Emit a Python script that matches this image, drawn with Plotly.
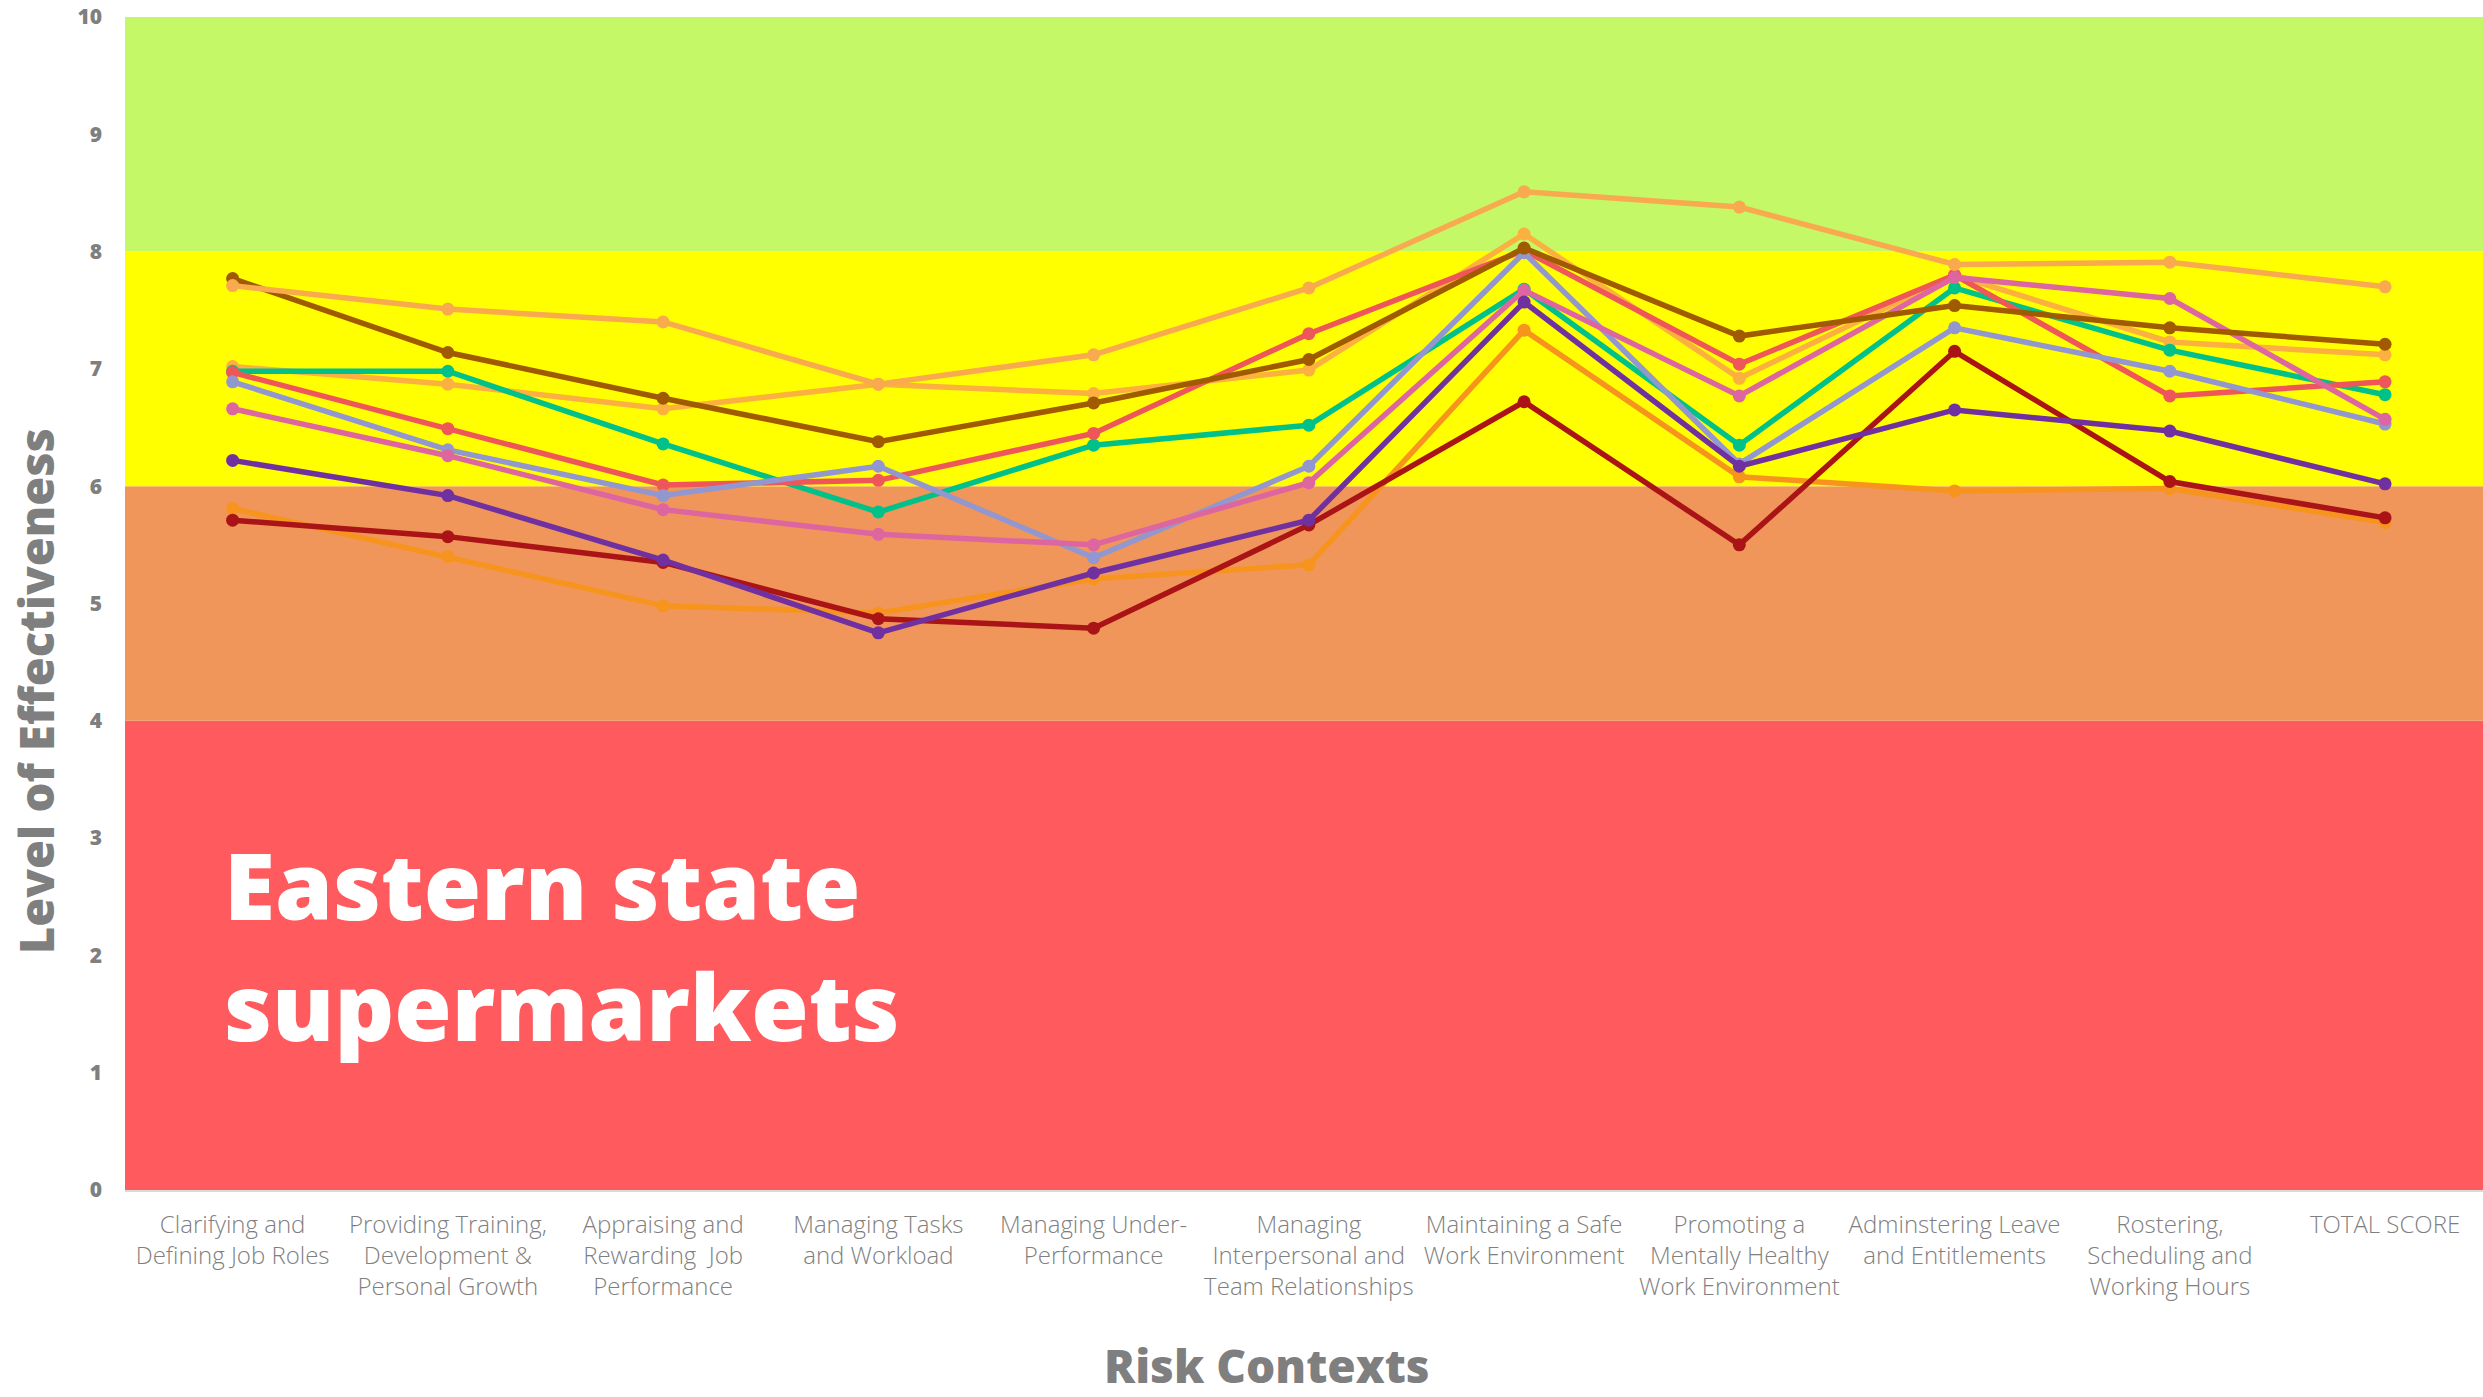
import plotly.graph_objects as go

# Risk context categories along the x axis
categories = [
    "Clarifying and<br>Defining Job Roles",
    "Providing Training,<br>Development &<br>Personal Growth",
    "Appraising and<br>Rewarding  Job<br>Performance",
    "Managing Tasks<br>and Workload",
    "Managing Under-<br>Performance",
    "Managing<br>Interpersonal and<br>Team Relationships",
    "Maintaining a Safe<br>Work Environment",
    "Promoting a<br>Mentally Healthy<br>Work Environment",
    "Adminstering Leave<br>and Entitlements",
    "Rostering,<br>Scheduling and<br>Working Hours",
    "TOTAL SCORE",
]

# Effectiveness scores per store
store_orange = [5.81, 5.40, 4.98, 4.92, 5.21, 5.33, 7.33, 6.08, 5.96, 5.98, 5.69]
store_light_b = [7.02, 6.87, 6.66, 6.87, 6.79, 6.99, 8.15, 6.92, 7.80, 7.23, 7.12]
store_teal = [6.98, 6.98, 6.36, 5.78, 6.35, 6.52, 7.68, 6.35, 7.69, 7.16, 6.78]
store_red = [6.97, 6.49, 6.01, 6.05, 6.45, 7.30, 8.01, 7.04, 7.80, 6.77, 6.89]
store_lavender = [6.89, 6.31, 5.92, 6.17, 5.39, 6.17, 7.99, 6.19, 7.35, 6.98, 6.53]
store_pink = [6.66, 6.26, 5.80, 5.59, 5.50, 6.03, 7.67, 6.77, 7.78, 7.60, 6.57]
store_brown = [7.77, 7.14, 6.75, 6.38, 6.71, 7.08, 8.03, 7.28, 7.54, 7.35, 7.21]
store_light_a = [7.71, 7.51, 7.40, 6.87, 7.12, 7.69, 8.51, 8.38, 7.89, 7.91, 7.70]
store_darkred = [5.71, 5.57, 5.35, 4.87, 4.79, 5.67, 6.72, 5.50, 7.15, 6.04, 5.73]
store_purple = [6.22, 5.92, 5.37, 4.75, 5.26, 5.71, 7.57, 6.17, 6.65, 6.47, 6.02]

# Rating bands (lower, upper) and their fills
band_edges = [(0, 4), (4, 6), (6, 8), (8, 10)]
band_colors = ["#FF5A5E", "#F0965A", "#FFFF00", "#C4F867"]

y_ticks = list(range(0, 11))

series = [
    ("Store 1", store_orange, "#F7941D"),
    ("Store 2", store_light_b, "#FBB040"),
    ("Store 3", store_teal, "#00C18A"),
    ("Store 4", store_red, "#EF5659"),
    ("Store 5", store_lavender, "#9297D0"),
    ("Store 6", store_pink, "#DD66A1"),
    ("Store 7", store_brown, "#A05A00"),
    ("Store 8", store_light_a, "#F9AA4F"),
    ("Store 9", store_darkred, "#AA1416"),
    ("Store 10", store_purple, "#7030A0"),
]

fig = go.Figure()

for name, vals, color in series:
    fig.add_trace(go.Scatter(
        x=categories, y=vals, name=name, mode="lines+markers",
        line=dict(color=color, width=5.5),
        marker=dict(color=color, size=13),
    ))

shapes = []
for (lo, hi), col in zip(band_edges, band_colors):
    shapes.append(dict(
        type="rect", xref="paper", yref="y", x0=0, x1=1, y0=lo, y1=hi,
        fillcolor=col, line=dict(width=0), layer="below",
    ))

grey = "#7F7F7F"
heavy = "Open Sans"

fig.update_layout(
    width=2483, height=1397,
    margin=dict(l=125, r=0, t=17, b=207, autoexpand=False),
    paper_bgcolor="white", plot_bgcolor="white",
    showlegend=False,
    shapes=shapes,
    xaxis=dict(
        type="category", range=[-0.5, 10.455],
        showgrid=False, zeroline=False,
        showline=True, linecolor="#D9D9D9", linewidth=2,
        tickangle=0,
        tickfont=dict(family="Open Sans", size=24, color=grey, weight=300),
        ticklabelstandoff=12,
    ),
    yaxis=dict(
        range=[0, 10], tickvals=y_ticks,
        showgrid=False, zeroline=False, showline=False,
        tickfont=dict(family=heavy, size=21, color=grey, weight=800),
        ticklabelstandoff=22, ticklabeloverflow="allow",
    ),
    annotations=[
        dict(text="Level of Effectiveness", textangle=-90,
             xref="paper", yref="paper", x=-0.038, y=0.4257,
             xanchor="center", yanchor="middle", showarrow=False,
             font=dict(family=heavy, size=47, color=grey, weight=800)),
        dict(text="Risk Contexts",
             xref="paper", yref="paper", x=0.4844, y=-0.1495,
             xanchor="center", yanchor="middle", showarrow=False,
             font=dict(family=heavy, size=46, color=grey, weight=800)),
        dict(text="Eastern state<br>supermarkets", align="left",
             xref="paper", yref="paper", x=0.041, y=0.209,
             xanchor="left", yanchor="middle", showarrow=False,
             font=dict(family=heavy, size=93, color="white", weight=800)),
    ],
)

fig.write_html("out.html")
